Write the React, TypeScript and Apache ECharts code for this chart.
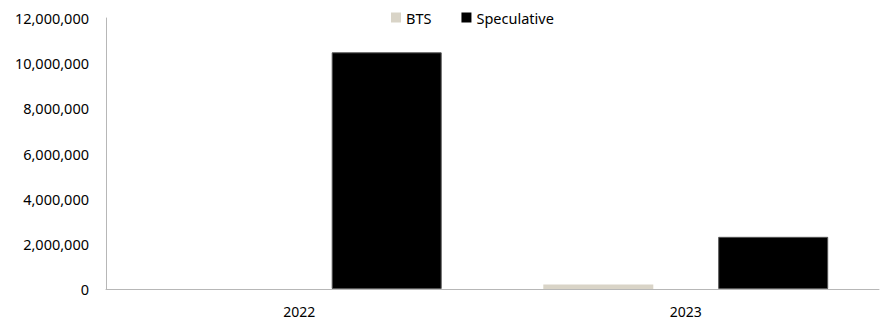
import React, { useEffect, useRef } from "react";
import * as echarts from "echarts";

const categories = ["2022", "2023"];
const btsValues = [0, 200000];
const speculativeValues = [10480000, 2310000];
const seriesNames = ["BTS", "Speculative"];

const FONT = "'Noto Sans', sans-serif";

export default function App() {
  const ref = useRef<HTMLDivElement>(null);
  useEffect(() => {
    if (!ref.current) return;
    const chart = echarts.init(ref.current, undefined, { renderer: "svg" });
    chart.setOption({
      animation: false,
      textStyle: { fontFamily: FONT },
      legend: {
        left: 386,
        top: 5,
        itemWidth: 10,
        itemHeight: 10,
        itemGap: 30,
        icon: "rect",
        itemStyle: { borderWidth: 0 },
        textStyle: { fontFamily: FONT, fontSize: 14.5, color: "#000" },
        data: seriesNames,
      },
      grid: { left: 106, right: 3, top: 18, bottom: 31, containLabel: false },
      xAxis: {
        type: "category",
        data: categories,
        axisLine: { lineStyle: { color: "#b7b7b7", width: 1 } },
        axisTick: { show: false },
        axisLabel: { color: "#000", fontFamily: FONT, fontSize: 14, margin: 15 },
      },
      yAxis: {
        type: "value",
        min: 0,
        max: 12000000,
        interval: 2000000,
        axisLine: { show: true, lineStyle: { color: "#b7b7b7", width: 1 } },
        axisTick: { show: false },
        splitLine: { show: false },
        axisLabel: {
          color: "#000",
          fontFamily: FONT,
          fontSize: 14.5,
          margin: 17,
          formatter: (v: number) => v.toLocaleString("en-US"),
        },
      },
      series: [
        {
          name: seriesNames[0],
          type: "bar",
          data: btsValues,
          barWidth: 110,
          barGap: "59%",
          itemStyle: { color: "#d9d4c7" },
        },
        {
          name: seriesNames[1],
          type: "bar",
          data: speculativeValues,
          barWidth: 110,
          barGap: "59%",
          itemStyle: { color: "#000000", borderColor: "#555", borderWidth: 1 },
        },
      ],
    });
    return () => chart.dispose();
  }, []);
  return <div ref={ref} style={{ width: 882, height: 320, position: "absolute", left: 0, top: 0 }} />;
}
